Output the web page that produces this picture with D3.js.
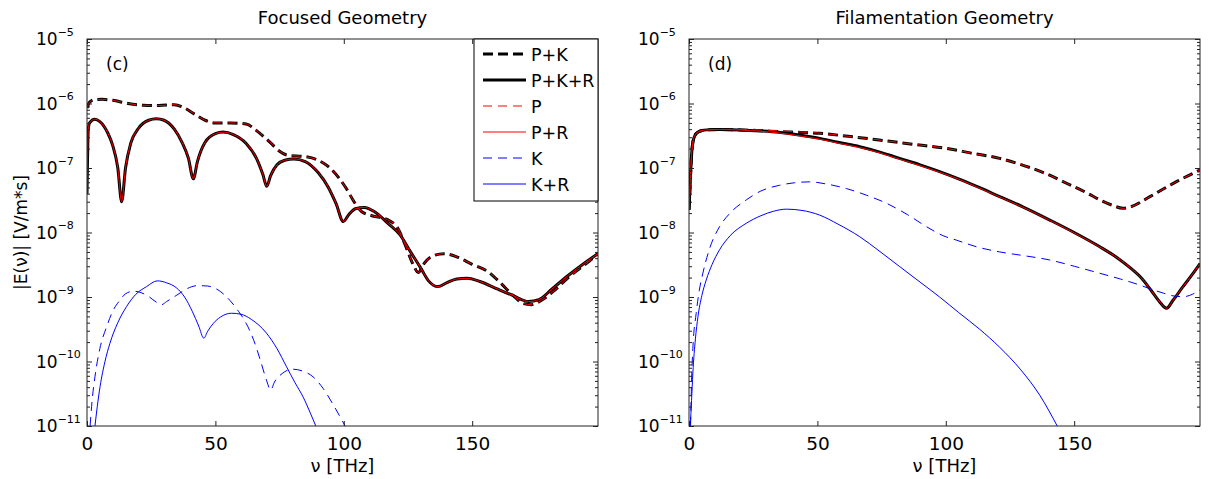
<!DOCTYPE html>
<html lang="en">
<head>
<meta charset="utf-8">
<script src="https://cdnjs.cloudflare.com/ajax/libs/d3/7.8.5/d3.min.js"></script>
<style>
  body { margin: 0; background: #fff; }
  svg text { font-family: "DejaVu Sans", "Liberation Sans", Arial, sans-serif; fill: #000; }
</style>
</head>
<body>
<script>
// tick labels / text
const nuTicks = [0, 50, 100, 150];
const yTickVals = [1e-11, 1e-10, 1e-9, 1e-8, 1e-7, 1e-6, 1e-5];
const yTickExp = ["\u221211", "\u221210", "\u22129", "\u22128", "\u22127", "\u22126", "\u22125"];
const titles = ["Focused Geometry", "Filamentation Geometry"];
const tags = ["(c)", "(d)"];
const legendLabels = ["P+K", "P+K+R", "P", "P+R", "K", "K+R"];

// ---- (c) focused geometry, [nu THz, |E| V/m*s]
const focPK = [[0,8.5e-7],[1,1.05e-6],[3,1.15e-6],[6,1.16e-6],[10,1.12e-6],[16,1.0e-6],[22,9.4e-7],[28,9.3e-7],
  [34,9.6e-7],[38,8.5e-7],[42,6.8e-7],[46,5.5e-7],[50,5.0e-7],[56,5.0e-7],[62,4.8e-7],[66,3.8e-7],[71,2.57e-7],
  [75,1.82e-7],[78,1.58e-7],[85,1.5e-7],[90,1.32e-7],[94,1.05e-7],[98,7.1e-8],[101,4.8e-8],[104,3.0e-8],
  [107,2.1e-8],[111,1.82e-8],[117,1.58e-8],[121,1.17e-8],[124,6.3e-9],[127,3.2e-9],[129,2.4e-9],[131,3.2e-9],
  [134,4.2e-9],[139,4.7e-9],[144,4.2e-9],[150,3.2e-9],[156,2.5e-9],[161,1.66e-9],[166,1.05e-9],[170,7.9e-10],
  [173,7.6e-10],[177,8.9e-10],[182,1.26e-9],[188,2.1e-9],[194,3.2e-9],[199,4.7e-9]];
const focPKR = [[0,4.0e-8],[0.5,4.0e-7],[1,5.0e-7],[3,5.7e-7],[5,5.25e-7],[8,3.55e-7],[10,2.24e-7],[12,1.0e-7],
  [13.5,3.0e-8],[15,1.0e-7],[17,2.4e-7],[20,4.1e-7],[24,5.5e-7],[27,5.8e-7],[30,5.5e-7],[34,4.0e-7],[37,2.5e-7],
  [39.5,1.41e-7],[41.4,6.8e-8],[43,1.26e-7],[46,2.5e-7],[50,3.4e-7],[53,3.6e-7],[57,3.3e-7],[62,2.4e-7],
  [66,1.41e-7],[68.5,7.9e-8],[70,5.2e-8],[71.5,7.6e-8],[74,1.12e-7],[77,1.32e-7],[80.5,1.38e-7],[85,1.26e-7],
  [90,8.5e-8],[94,5.0e-8],[97,2.8e-8],[99.8,1.48e-8],[102,1.9e-8],[104.5,2.34e-8],[108,2.45e-8],[112,2.1e-8],
  [117,1.41e-8],[122,9.1e-9],[126,5.0e-9],[130,2.8e-9],[133,1.78e-9],[136.7,1.45e-9],[140,1.66e-9],[144,1.9e-9],
  [148,1.95e-9],[153,1.74e-9],[160,1.32e-9],[166,1.05e-9],[172,8.5e-10],[176,9.1e-10],[181,1.32e-9],[187,2.1e-9],
  [193,3.2e-9],[199,4.7e-9]];
const focP = [[0,8.5e-7],[1,1.05e-6],[3,1.15e-6],[6,1.16e-6],[10,1.12e-6],[16,1.0e-6],[22,9.4e-7],[28,9.3e-7],
  [34,9.6e-7],[38,8.5e-7],[42,6.8e-7],[46,5.5e-7],[50,5.0e-7],[56,5.0e-7],[62,4.8e-7],[66,3.8e-7],[71,2.57e-7],
  [75,1.82e-7],[78,1.58e-7],[85,1.5e-7],[90,1.32e-7],[94,1.05e-7],[98,7.1e-8],[101,4.8e-8],[104,3.0e-8],
  [107,2.1e-8],[111,1.82e-8],[117,1.58e-8],[121,1.17e-8],[124,6.3e-9],[127,3.2e-9],[129,2.4e-9],[131,3.2e-9],
  [134,4.2e-9],[139,4.7e-9],[144,4.2e-9],[150,3.2e-9],[156,2.5e-9],[161,1.66e-9],[166,1.05e-9],[170,7.9e-10],
  [173,7.6e-10],[177,8.9e-10],[182,1.26e-9],[188,2.1e-9],[194,3.2e-9],[199,4.7e-9]];
const focPR = [[0,4.0e-8],[0.5,4.0e-7],[1,5.0e-7],[3,5.7e-7],[5,5.25e-7],[8,3.55e-7],[10,2.24e-7],[12,1.0e-7],
  [13.5,3.0e-8],[15,1.0e-7],[17,2.4e-7],[20,4.1e-7],[24,5.5e-7],[27,5.8e-7],[30,5.5e-7],[34,4.0e-7],[37,2.5e-7],
  [39.5,1.41e-7],[41.4,6.8e-8],[43,1.26e-7],[46,2.5e-7],[50,3.4e-7],[53,3.6e-7],[57,3.3e-7],[62,2.4e-7],
  [66,1.41e-7],[68.5,7.9e-8],[70,5.2e-8],[71.5,7.6e-8],[74,1.12e-7],[77,1.32e-7],[80.5,1.38e-7],[85,1.26e-7],
  [90,8.5e-8],[94,5.0e-8],[97,2.8e-8],[99.8,1.48e-8],[102,1.9e-8],[104.5,2.34e-8],[108,2.45e-8],[112,2.1e-8],
  [117,1.41e-8],[122,9.1e-9],[126,5.0e-9],[130,2.8e-9],[133,1.78e-9],[136.7,1.45e-9],[140,1.66e-9],[144,1.9e-9],
  [148,1.95e-9],[153,1.74e-9],[160,1.32e-9],[166,1.05e-9],[172,8.5e-10],[176,9.1e-10],[181,1.32e-9],[187,2.1e-9],
  [193,3.2e-9],[199,4.7e-9]];
const focK = [[1.2,1e-11],[2,2.5e-11],[3.1,5.8e-11],[5,1.58e-10],[7.7,3.5e-10],[10,6.0e-10],[12.8,8.9e-10],
  [15,1.12e-9],[18,1.23e-9],[21,1.17e-9],[24,1.02e-9],[27,8.3e-10],[29,7.6e-10],[31,8.5e-10],[35,1.07e-9],
  [39,1.35e-9],[43,1.5e-9],[47,1.48e-9],[51,1.29e-9],[55.6,8.9e-10],[59,6.0e-10],[62,3.9e-10],[65,2.1e-10],
  [67.5,1.05e-10],[70,5.0e-11],[71.5,3.6e-11],[73,4.8e-11],[76,6.5e-11],[80,7.6e-11],[84,7.1e-11],[88,5.8e-11],
  [92,3.8e-11],[96,2.1e-11],[100.5,1e-11]];
const focKR = [[3.1,1e-11],[4,2.0e-11],[5.1,4.1e-11],[7,1.0e-10],[8.9,1.9e-10],[12,4.0e-10],[15.4,7.1e-10],
  [19,1.1e-9],[23.2,1.45e-9],[27.4,1.78e-9],[31,1.66e-9],[34.9,1.38e-9],[38,1.0e-9],[41,6.0e-10],[43.5,3.55e-10],
  [45.5,2.3e-10],[47,2.95e-10],[49.2,3.9e-10],[52,4.9e-10],[56.3,5.6e-10],[60,5.4e-10],[64,4.5e-10],
  [69.9,2.75e-10],[74,1.58e-10],[77.7,8.3e-11],[81,4.7e-11],[84.2,2.8e-11],[87,1.58e-11],[89.1,1e-11]];

// ---- (d) filamentation geometry
const filPK = [[0,2.24e-8],[0.5,6.3e-8],[1,1.58e-7],[1.5,2.5e-7],[2.5,3.3e-7],[3.5,3.6e-7],[5,3.8e-7],[7,3.9e-7],
  [12,3.95e-7],[20,3.9e-7],[30,3.75e-7],[40,3.6e-7],[51,3.45e-7],[62,3.1e-7],[74,2.72e-7],[87,2.34e-7],
  [100,2.02e-7],[110,1.7e-7],[121,1.41e-7],[128,1.17e-7],[138,8.5e-8],[147,5.8e-8],[155,4.1e-8],[160,3.2e-8],
  [165,2.63e-8],[169,2.37e-8],[172,2.5e-8],[179.5,3.6e-8],[190,6.2e-8],[199,9.3e-8]];
const filPKR = [[0,2.24e-8],[0.5,6.3e-8],[1,1.58e-7],[1.5,2.5e-7],[2.5,3.3e-7],[3.5,3.6e-7],[5,3.8e-7],[7,3.9e-7],
  [12,3.95e-7],[20,3.9e-7],[28,3.75e-7],[35,3.57e-7],[43,3.24e-7],[51,2.88e-7],[58,2.5e-7],[66.5,2.14e-7],
  [74,1.78e-7],[82,1.41e-7],[90,1.12e-7],[97.6,8.8e-8],[105,6.8e-8],[113,5.0e-8],[121,3.6e-8],[130,2.5e-8],
  [140.5,1.56e-8],[150,1.0e-8],[160,6.0e-9],[167,4.0e-9],[172,2.8e-9],[176,2.0e-9],[180,1.26e-9],[183,8.7e-10],
  [186,6.7e-10],[188.5,8.9e-10],[192,1.38e-9],[196,2.24e-9],[199,3.3e-9]];
const filP = [[0,2.24e-8],[0.5,6.3e-8],[1,1.58e-7],[1.5,2.5e-7],[2.5,3.3e-7],[3.5,3.6e-7],[5,3.8e-7],[7,3.9e-7],
  [12,3.97e-7],[20,3.95e-7],[30,3.85e-7],[40,3.68e-7],[51,3.47e-7],[62,3.1e-7],[74,2.72e-7],[87,2.34e-7],
  [100,2.02e-7],[110,1.7e-7],[121,1.41e-7],[128,1.17e-7],[138,8.5e-8],[147,5.8e-8],[155,4.1e-8],[160,3.2e-8],
  [165,2.63e-8],[169,2.37e-8],[172,2.5e-8],[179.5,3.6e-8],[190,6.2e-8],[199,9.3e-8]];
const filPR = [[0,2.24e-8],[0.5,6.3e-8],[1,1.58e-7],[1.5,2.5e-7],[2.5,3.3e-7],[3.5,3.6e-7],[5,3.8e-7],[7,3.9e-7],
  [12,3.95e-7],[20,3.88e-7],[28,3.7e-7],[35,3.5e-7],[43,3.15e-7],[51,2.8e-7],[58,2.43e-7],[66.5,2.08e-7],
  [74,1.73e-7],[82,1.37e-7],[90,1.09e-7],[97.6,8.6e-8],[105,6.7e-8],[113,4.9e-8],[121,3.55e-8],[130,2.47e-8],
  [140.5,1.54e-8],[150,9.9e-9],[160,5.95e-9],[167,4.0e-9],[172,2.8e-9],[176,2.0e-9],[180,1.26e-9],[183,8.7e-10],
  [186,6.7e-10],[188.5,8.9e-10],[192,1.38e-9],[196,2.24e-9],[199,3.3e-9]];
const filK = [[0.6,1e-11],[1,5.0e-11],[1.5,1.58e-10],[2.8,5.6e-10],[4,1.26e-9],[5.4,2.34e-9],[8,5.6e-9],
  [11.9,1.23e-8],[16,2.0e-8],[22.3,3.2e-8],[28,4.4e-8],[35.3,5.4e-8],[41,5.9e-8],[47,6.1e-8],[54,5.6e-8],
  [61.3,4.8e-8],[69,3.8e-8],[76.9,2.84e-8],[85,1.9e-8],[92.5,1.23e-8],[99,8.9e-9],[104.2,7.6e-9],[112,6.0e-9],
  [121,5.0e-9],[130,4.4e-9],[140.5,3.75e-9],[150,3.0e-9],[160,2.33e-9],[168,1.9e-9],[175.6,1.53e-9],[180,1.32e-9],
  [184.7,1.15e-9],[188,1.05e-9],[192.5,1.01e-9],[196,1.1e-9],[199,1.29e-9]];
const filKR = [[0.5,1e-11],[1,2.5e-11],[1.5,6.6e-11],[2.5,2.24e-10],[3.5,5.0e-10],[5,1.05e-9],[6.7,1.83e-9],
  [9,3.2e-9],[11.9,5.4e-9],[16,8.9e-9],[22.3,1.39e-8],[28,1.82e-8],[33,2.14e-8],[37.9,2.3e-8],[44,2.2e-8],
  [50.9,1.86e-8],[58,1.35e-8],[66.5,8.6e-9],[74,5.2e-9],[82.1,2.95e-9],[90,1.7e-9],[97.6,1.0e-9],[105,5.75e-10],
  [113.2,3.16e-10],[121,1.66e-10],[129,7.6e-11],[136.6,3.0e-11],[143.4,1e-11]];

// ---------------------------------------------------------------
const W = 1209, H = 479;
const plotTop = 39, plotBottom = 426, plotW = 511;
const styles = [
  { color: "#000", width: 3, dash: "10,5" },
  { color: "#000", width: 3, dash: null },
  { color: "#f00", width: 1, dash: "9,6" },
  { color: "#f00", width: 1, dash: null },
  { color: "#00f", width: 1, dash: "9,6" },
  { color: "#00f", width: 1, dash: null }
];
const panels = [
  { left: 87, title: titles[0], tag: tags[0], series: [focPK, focPKR, focP, focPR, focK, focKR], legend: true },
  { left: 689, title: titles[1], tag: tags[1], series: [filPK, filPKR, filP, filPR, filK, filKR], legend: false }
];

const svg = d3.select("body").append("svg").attr("width", W).attr("height", H);

// y label
svg.append("text")
  .attr("transform", `translate(27,${(plotTop + plotBottom) / 2}) rotate(-90)`)
  .attr("text-anchor", "middle")
  .style("font-size", "17px")
  .text("|E(\u03bd)| [V/m*s]");

panels.forEach((p, i) => {
  const x = d3.scaleLinear().domain([0, 199]).range([p.left, p.left + plotW]);
  const y = d3.scaleLog().domain([1e-11, 1e-5]).range([plotBottom, plotTop]);
  const g = svg.append("g");

  const clipId = "clip" + i;
  g.append("clipPath").attr("id", clipId).append("rect")
    .attr("x", p.left).attr("y", plotTop).attr("width", plotW).attr("height", plotBottom - plotTop);

  const line = d3.line().x(d => x(d[0])).y(d => y(d[1])).curve(d3.curveMonotoneX);
  const curves = g.append("g").attr("clip-path", `url(#${clipId})`);
  p.series.forEach((s, k) => {
    curves.append("path")
      .datum(s)
      .attr("fill", "none")
      .attr("stroke", styles[k].color)
      .attr("stroke-width", styles[k].width)
      .attr("stroke-dasharray", styles[k].dash)
      .attr("stroke-linejoin", "round")
      .attr("d", line);
  });

  // axes (ticks inward, box drawn separately)
  const minor = y.ticks().filter(v => !yTickVals.some(t => Math.abs(t - v) / t < 1e-6));
  const tickStyle = sel => {
    sel.select(".domain").remove();
    sel.selectAll("line").attr("stroke", "#222");
  };
  g.append("g").attr("transform", `translate(0,${plotBottom})`)
    .call(d3.axisBottom(x).tickValues(nuTicks).tickSize(-5).tickPadding(11).tickFormat(d3.format("d")))
    .call(tickStyle)
    .selectAll("text").style("font-size", "18.5px").style("font-family", "DejaVu Sans, sans-serif")
    .attr("fill", "#000");
  g.append("g").attr("transform", `translate(0,${plotTop})`)
    .call(d3.axisTop(x).tickValues(nuTicks).tickSize(-5).tickFormat(""))
    .call(tickStyle);

  const yl = g.append("g").attr("transform", `translate(${p.left},0)`)
    .call(d3.axisLeft(y).tickValues(yTickVals).tickSize(-5).tickFormat(""))
    .call(tickStyle);
  yl.selectAll(".tick text").each(function (d, j) {
    const t = d3.select(this).attr("x", -51).attr("dy", "5.5px").attr("text-anchor", "start")
      .attr("fill", "#000").style("font-family", "DejaVu Sans, sans-serif");
    t.append("tspan").style("font-size", "17px").text("10");
    t.append("tspan").style("font-size", "11px").attr("dy", "-9.5px").text(yTickExp[j]);
  });
  g.append("g").attr("transform", `translate(${p.left},0)`)
    .call(d3.axisLeft(y).tickValues(minor).tickSize(-3).tickFormat(""))
    .call(tickStyle);
  g.append("g").attr("transform", `translate(${p.left + plotW},0)`)
    .call(d3.axisRight(y).tickValues(yTickVals).tickSize(-5).tickFormat(""))
    .call(tickStyle);
  g.append("g").attr("transform", `translate(${p.left + plotW},0)`)
    .call(d3.axisRight(y).tickValues(minor).tickSize(-3).tickFormat(""))
    .call(tickStyle);

  g.append("rect")
    .attr("x", p.left).attr("y", plotTop).attr("width", plotW).attr("height", plotBottom - plotTop)
    .attr("fill", "none").attr("stroke", "#222").attr("stroke-width", 1);

  // title, panel tag, x label
  g.append("text").attr("x", p.left + plotW / 2).attr("y", 24)
    .attr("text-anchor", "middle").style("font-size", "18px").text(p.title);
  g.append("text").attr("x", p.left + 19).attr("y", 70)
    .style("font-size", "17px").text(p.tag);
  g.append("text").attr("x", p.left + plotW / 2).attr("y", 472)
    .attr("text-anchor", "middle").style("font-size", "18px").text("\u03bd [THz]");

  if (p.legend) {
    const lx = 474, ly = plotTop, lw = 124, lh = 162;
    const lg = g.append("g");
    lg.append("rect").attr("x", lx).attr("y", ly).attr("width", lw).attr("height", lh)
      .attr("fill", "#fff").attr("stroke", "#000").attr("stroke-width", 1);
    legendLabels.forEach((lab, k) => {
      const yy = ly + 15 + k * 26;
      lg.append("line").attr("x1", lx + 9).attr("x2", lx + 52).attr("y1", yy).attr("y2", yy)
        .attr("stroke", styles[k].color).attr("stroke-width", styles[k].width)
        .attr("stroke-dasharray", styles[k].dash);
      lg.append("text").attr("x", lx + 57).attr("y", yy + 7).style("font-size", "17.5px").text(lab);
    });
  }
});
</script>
</body>
</html>
